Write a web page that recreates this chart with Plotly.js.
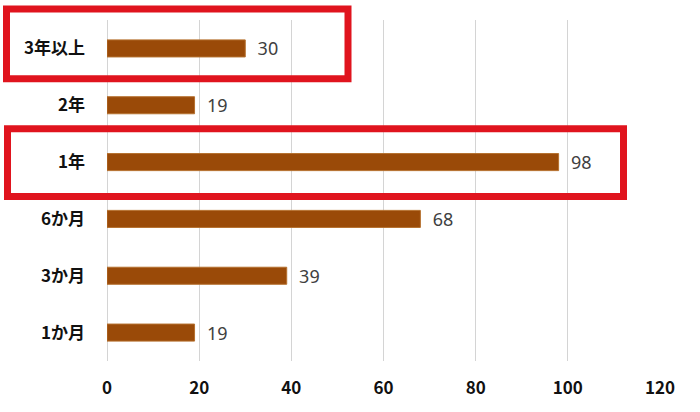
<!DOCTYPE html>
<html><head><meta charset="utf-8">
<script src="https://cdn.plot.ly/plotly-3.0.1.min.js"></script>
<style>body{margin:0;background:#fff}#chart{width:700px;height:412px}</style>
</head><body><div id="chart"></div>
<script>
const categories = ['1か月', '3か月', '6か月', '1年', '2年', '3年以上'];
const values = [19, 39, 68, 98, 19, 30];
const xTicks = [0, 20, 40, 60, 80, 100, 120];

const trace = {
  type: 'bar', orientation: 'h',
  y: categories, x: values,
  marker: {color: '#9a4a08', line: {color: '#b5702e', width: 1}},
  width: 0.3,
  text: values.map(v => '  ' + v),
  textposition: 'outside',
  constraintext: 'none',
  cliponaxis: false,
  textfont: {family: 'Noto Sans, Noto Sans CJK JP, sans-serif', size: 18, color: '#404040'},
  hoverinfo: 'skip'
};

const L = 107, R = 660, T = 19.5, B = 361.5;
const px = v => (v - L) / (R - L);
const py = v => (B - v) / (B - T);
const red = {color: '#e0141e', width: 7};

const layout = {
  width: 700, height: 412,
  margin: {l: L, r: 700 - R, t: T, b: 412 - B, pad: 0},
  paper_bgcolor: '#fff', plot_bgcolor: '#fff',
  showlegend: false,
  xaxis: {
    range: [0, 120], tickvals: xTicks, ticktext: xTicks.map(String),
    showgrid: true, gridcolor: '#d4d4d4', gridwidth: 1,
    zeroline: true, zerolinecolor: '#d4d4d4', zerolinewidth: 1,
    showline: false, ticks: '', ticklabelstandoff: 15,
    tickfont: {family: 'Noto Sans CJK JP, Noto Sans, sans-serif', size: 17, color: '#111', weight: 'bold'}
  },
  yaxis: {
    categoryorder: 'array', categoryarray: categories,
    showgrid: false, zeroline: false, showline: false, ticks: '',
    ticklabelstandoff: 21,
    tickfont: {family: 'Noto Sans CJK JP, Noto Sans, sans-serif', size: 17, color: '#111', weight: 'bold'}
  },
  shapes: [
    {type: 'rect', xref: 'paper', yref: 'paper', x0: px(6.5), x1: px(348), y0: py(8.5), y1: py(78.5), line: red, fillcolor: 'rgba(0,0,0,0)'},
    {type: 'rect', xref: 'paper', yref: 'paper', x0: px(7.5), x1: px(623.5), y0: py(128.5), y1: py(196.5), line: red, fillcolor: 'rgba(0,0,0,0)'}
  ]
};

Plotly.newPlot('chart', [trace], layout, {displayModeBar: false, staticPlot: true});
</script></body></html>
